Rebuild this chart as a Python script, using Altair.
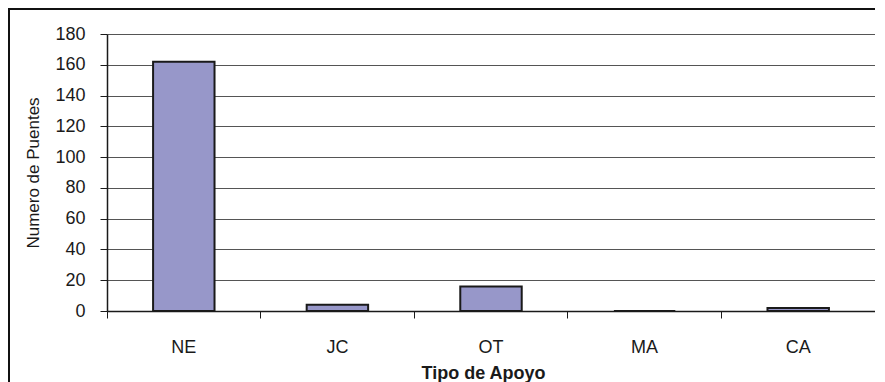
import altair as alt
import pandas as pd

categories = ["NE", "JC", "OT", "MA", "CA"]
values = [162, 4, 16, 0, 2]
y_ticks = [0, 20, 40, 60, 80, 100, 120, 140, 160, 180]

df = pd.DataFrame({"tipo": categories, "puentes": values})

W, H = 768, 277
FONT = "Liberation Sans"

bars = alt.Chart(df).mark_bar(
    width=alt.RelativeBandSize(0.4),
    color="#9797C9",
    stroke="#1a1a1a",
    strokeWidth=2,
).encode(
    x=alt.X(
        "tipo:N",
        sort=categories,
        scale=alt.Scale(paddingInner=0, paddingOuter=0),
        axis=alt.Axis(
            title="Tipo de Apoyo",
            labelAngle=0,
            bandPosition=1,
            tickExtra=True,
            tickSize=7,
            tickColor="#1a1a1a",
            domainColor="#1a1a1a",
            domainWidth=1.5,
            labelFont=FONT,
            labelFontSize=18,
            labelColor="#1a1a1a",
            labelBaseline="alphabetic",
            labelPadding=34,
            titleFont=FONT,
            titleFontSize=18,
            titleFontWeight="bold",
            titleColor="#1a1a1a",
            titleX=376,
            titleY=67,
            titleBaseline="alphabetic",
            grid=False,
        ),
    ),
    y=alt.Y(
        "puentes:Q",
        scale=alt.Scale(domain=[0, 180], nice=False),
        axis=alt.Axis(
            title="Numero de Puentes",
            values=y_ticks,
            tickSize=7,
            tickColor="#1a1a1a",
            domainColor="#1a1a1a",
            domainWidth=1.5,
            labelFont=FONT,
            labelFontSize=18,
            labelColor="#1a1a1a",
            labelPadding=15,
            titleFont=FONT,
            titleFontSize=17,
            titleFontWeight="normal",
            titleColor="#1a1a1a",
            titleAngle=-90,
            titleX=-74,
            titleY=H / 2,
            titleAlign="center",
            titleBaseline="middle",
            grid=True,
            gridColor="#555555",
            gridWidth=1,
        ),
    ),
)

border = alt.Chart(pd.DataFrame({"a": [0]})).mark_rect(
    fillOpacity=0, stroke="#111111", strokeWidth=2
).encode(
    x=alt.value(-98), x2=alt.value(900), y=alt.value(-25), y2=alt.value(420)
)

chart = alt.layer(border, bars).properties(
    width=W,
    height=H,
    autosize=alt.AutoSizeParams(type="none"),
    padding={"left": 99, "top": 26, "right": 0, "bottom": 71},
).configure_view(
    stroke="#A0A0A0", strokeWidth=2
).configure(background="white")

chart.save("out.html", embed_options={"renderer": "svg", "actions": False})
